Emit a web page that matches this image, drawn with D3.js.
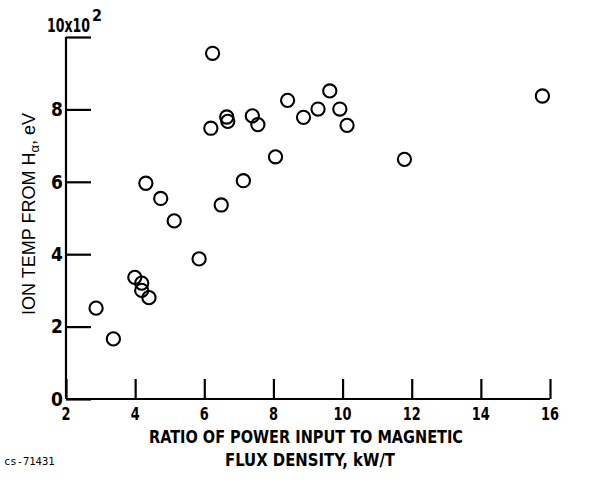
<!DOCTYPE html>
<html>
<head>
<meta charset="utf-8">
<script src="https://cdn.jsdelivr.net/npm/d3@7"></script>
<style>
  html, body { margin: 0; padding: 0; background: #fff; }
  svg { display: block; }
  .lab { font-family: "DejaVu Sans Condensed", "Liberation Sans Narrow", "Liberation Sans", sans-serif; font-stretch: condensed; font-weight: bold; fill: #000; }
</style>
</head>
<body>
<svg id="chart" width="590" height="482"></svg>
<script>
// Data (x: kW/T, y: ion temp in units of 10^2 eV)
const powerRatio = [2.87, 3.37, 3.99, 4.19, 4.19, 4.40, 4.31, 4.74, 5.13, 5.85,
                    6.49, 7.13, 6.24, 6.19, 6.65, 6.68, 7.39, 7.55, 8.41, 8.06,
                    8.87, 9.29, 9.63, 9.92, 10.13, 11.79, 15.78];
const ionTemp    = [2.51, 1.66, 3.36, 3.20, 3.00, 2.80, 5.96, 5.54, 4.92, 3.87,
                    5.36, 6.03, 9.55, 7.48, 7.79, 7.67, 7.82, 7.58, 8.25, 6.69,
                    7.78, 8.01, 8.51, 8.01, 7.56, 6.62, 8.37];
const xTicks = [2, 4, 6, 8, 10, 12, 14, 16];
const yTicks = [0, 2, 4, 6, 8, 10];
const yTickLabels = ["0", "2", "4", "6", "8", ""];

const svg = d3.select("#chart");
const x = d3.scaleLinear().domain([2, 16]).range([66, 550]);
const y = d3.scaleLinear().domain([0, 10]).range([399, 37]);

// Axes (inward ticks)
const xAxis = d3.axisTop(x).tickValues(xTicks).tickSize(20).tickFormat("");
const yAxis = d3.axisRight(y).tickValues(yTicks).tickSize(25).tickFormat("");

const gx = svg.append("g").attr("transform", `translate(0,${y(0)})`).call(xAxis);
const gy = svg.append("g").attr("transform", `translate(${x(2)},0)`).call(yAxis);
[gx, gy].forEach(g => {
  g.select(".domain").attr("stroke", "#000").attr("stroke-width", 2.2);
  g.selectAll(".tick line").attr("stroke", "#000").attr("stroke-width", 2.2);
});
gx.select(".domain").attr("d", `M${x(2)},0H${x(16)}`);
gy.select(".domain").attr("d", `M0,${y(0)}V${y(10)}`);

// Tick labels (narrowed to look condensed)
svg.append("g").selectAll("text").data(xTicks).join("text")
  .attr("class", "lab")
  .attr("x", d => x(d)).attr("y", 420)
  .attr("text-anchor", "middle").attr("font-size", 18)
  .attr("textLength", d => String(d).length * 9).attr("lengthAdjust", "spacingAndGlyphs")
  .text(d => d);

svg.append("g").selectAll("text").data(yTicks).join("text")
  .attr("class", "lab")
  .attr("x", 63).attr("y", d => y(d)).attr("dy", "0.36em")
  .attr("text-anchor", "end").attr("font-size", 19)
  .text((d, i) => yTickLabels[i]);

// 10x10^2 multiplier label, squeezed horizontally with a transform
const mult = svg.append("text").attr("class", "lab").attr("font-size", 19).text("10x10");
const w = mult.node().getComputedTextLength() || 60;
mult.attr("transform", `translate(47,32) scale(${43 / w},1)`);
svg.append("text").attr("class", "lab").attr("x", 92).attr("y", 21).attr("font-size", 16).text("2");

// Axis titles
svg.append("text").attr("class", "lab")
  .attr("x", 306).attr("y", 443).attr("text-anchor", "middle").attr("font-size", 18)
  .attr("textLength", 314).attr("lengthAdjust", "spacingAndGlyphs")
  .text("RATIO OF POWER INPUT TO MAGNETIC");
svg.append("text").attr("class", "lab")
  .attr("x", 310).attr("y", 466).attr("text-anchor", "middle").attr("font-size", 18)
  .attr("textLength", 170).attr("lengthAdjust", "spacingAndGlyphs")
  .text("FLUX DENSITY, kW/T");

const yt = svg.append("text")
  .attr("font-family", "'Liberation Sans', sans-serif").attr("fill", "#000")
  .attr("transform", "translate(35,214) rotate(-90)")
  .attr("text-anchor", "middle").attr("font-size", 18);
yt.append("tspan").text("ION TEMP FROM H");
yt.append("tspan").attr("dy", 4).attr("font-size", 13).text("α");
yt.append("tspan").attr("dy", -4).text(", eV");

svg.append("text")
  .attr("x", 4).attr("y", 465)
  .attr("font-family", "'DejaVu Sans Mono', 'Liberation Mono', monospace")
  .attr("font-size", 10.5).attr("fill", "#000")
  .text("cs-71431");

// Points
const pts = powerRatio.map((v, i) => ({ x: v, y: ionTemp[i] }));
svg.append("g").selectAll("circle").data(pts).join("circle")
  .attr("cx", d => x(d.x)).attr("cy", d => y(d.y)).attr("r", 6.6)
  .attr("fill", "none").attr("stroke", "#000").attr("stroke-width", 2.1);
</script>
</body>
</html>
